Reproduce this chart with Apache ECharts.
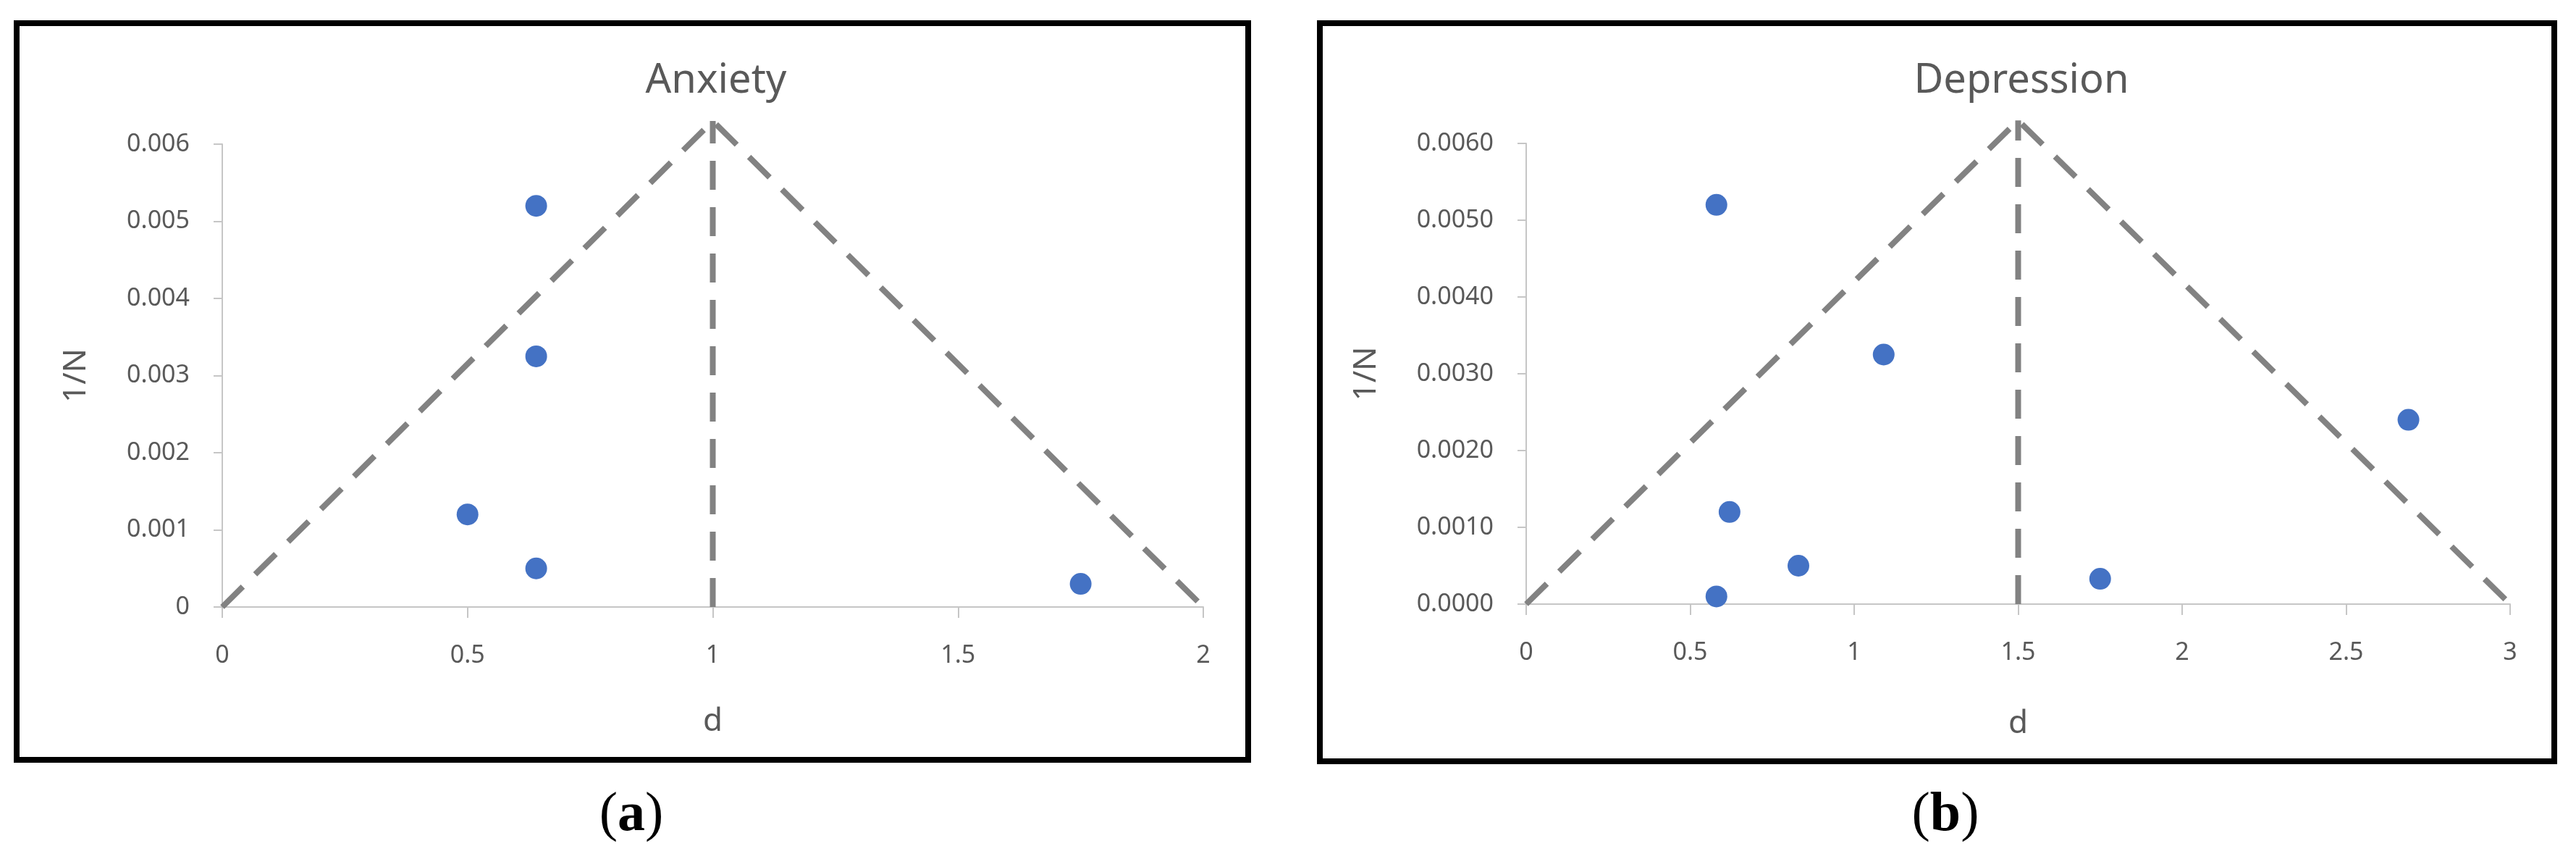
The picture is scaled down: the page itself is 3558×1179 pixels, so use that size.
<!DOCTYPE html>
<html>
<head>
<meta charset="utf-8">
<script src="https://cdn.jsdelivr.net/npm/echarts@6/dist/echarts.min.js"></script>
<style>
  html, body { margin: 0; padding: 0; background: #fff; }
  #chart { width: 3558px; height: 1179px; }
</style>
</head>
<body>
<div id="chart"></div>
<script>
// (a) Anxiety: effect size d vs 1/N
var anxietyD = [0.64, 0.64, 0.5, 0.64, 1.75];
var anxietyInvN = [0.0052, 0.00325, 0.0012, 0.0005, 0.0003];
var anxietyFunnelD = [0, 1, 2];
var anxietyFunnelY = [0, 0.0063, 0];
var anxietyMeanD = [1, 1];
var anxietyMeanY = [0, 0.0063];

// (b) Depression
var depressionD = [0.58, 1.09, 0.62, 0.83, 0.58, 1.75, 2.69];
var depressionInvN = [0.0052, 0.00325, 0.0012, 0.0005, 0.0001, 0.00033, 0.0024];
var depressionFunnelD = [0, 1.5, 3];
var depressionFunnelY = [0, 0.0063, 0];
var depressionMeanD = [1.5, 1.5];
var depressionMeanY = [0, 0.0063];

var panelTitles = ['Anxiety', 'Depression'];
var panelCaptions = ['a', 'b'];

function zip(xs, ys) {
  return xs.map(function (x, i) { return [x, ys[i]]; });
}

var labelColor = '#595959';
var axisColor = '#c6c6c6';
var dashColor = '#828282';
var dotColor = '#4472C4';
var font = '"Noto Sans", sans-serif';

function xAxisFor(grid, max, gap) {
  return {
    type: 'value', gridIndex: grid, min: 0, max: max, interval: 0.5,
    name: 'd', nameLocation: 'middle', nameGap: gap,
    nameTextStyle: { color: labelColor, fontSize: 44, fontFamily: font },
    axisLine: { onZero: false, lineStyle: { color: axisColor, width: 2 } },
    axisTick: { show: true, length: 15, lineStyle: { color: axisColor, width: 2 } },
    axisLabel: { color: labelColor, fontSize: 34, fontFamily: font, margin: 50 },
    splitLine: { show: false }
  };
}

function yAxisFor(grid, digits, gap) {
  return {
    type: 'value', gridIndex: grid, min: 0, max: 0.006, interval: 0.001,
    name: '1/N', nameLocation: 'middle', nameGap: gap, nameRotate: 90,
    nameTextStyle: { color: labelColor, fontSize: 44, fontFamily: font },
    axisLine: { show: true, lineStyle: { color: axisColor, width: 2 } },
    axisTick: { show: true, length: 12, lineStyle: { color: axisColor, width: 2 } },
    axisLabel: {
      color: labelColor, fontSize: 34, fontFamily: font, margin: 45,
      formatter: function (v) {
        if (digits === 3 && Math.abs(v) < 1e-9) return '0';
        return v.toFixed(digits);
      }
    },
    splitLine: { show: false }
  };
}

function dashed(grid, data) {
  return {
    type: 'line', xAxisIndex: grid, yAxisIndex: grid, data: data,
    symbol: 'none', clip: false, z: 2, silent: true,
    lineStyle: { color: dashColor, width: 8, type: [40, 24], cap: 'butt' }
  };
}

function dots(grid, data) {
  return {
    type: 'scatter', xAxisIndex: grid, yAxisIndex: grid, data: data,
    symbol: 'circle', symbolSize: 30, z: 5,
    itemStyle: { color: dotColor, opacity: 1 }
  };
}

function caption(x, letter) {
  return {
    type: 'text', x: x, y: 1126,
    style: {
      text: '{p|(}{l|' + letter + '}{p|)}',
      align: 'center', verticalAlign: 'middle',
      rich: {
        p: { fontSize: 76, fontFamily: '"Liberation Serif", serif', fill: '#000' },
        l: { fontSize: 76, fontFamily: '"Liberation Serif", serif', fontWeight: 'bold', fill: '#000' }
      }
    }
  };
}

var chart = echarts.init(document.getElementById('chart'));

var option = {
  backgroundColor: '#fff',
  animation: false,
  title: [
    { text: panelTitles[0], left: 984, top: 79, textAlign: 'center',
      textStyle: { color: labelColor, fontSize: 56, fontWeight: 'normal', fontFamily: font } },
    { text: panelTitles[1], left: 2787, top: 79, textAlign: 'center',
      textStyle: { color: labelColor, fontSize: 56, fontWeight: 'normal', fontFamily: font } }
  ],
  grid: [
    { left: 307, top: 199, width: 1355, height: 639 },
    { left: 2108, top: 198, width: 1359, height: 636 }
  ],
  xAxis: [xAxisFor(0, 2, 136), xAxisFor(1, 3, 143)],
  yAxis: [yAxisFor(0, 3, 180), yAxisFor(1, 4, 199)],
  series: [
    dashed(0, zip(anxietyFunnelD, anxietyFunnelY)),
    dashed(0, zip(anxietyMeanD, anxietyMeanY)),
    dots(0, zip(anxietyD, anxietyInvN)),
    dashed(1, zip(depressionFunnelD, depressionFunnelY)),
    dashed(1, zip(depressionMeanD, depressionMeanY)),
    dots(1, zip(depressionD, depressionInvN))
  ],
  graphic: [
    { type: 'rect', shape: { x: 23, y: 32, width: 1701, height: 1017 },
      style: { fill: 'none', stroke: '#000', lineWidth: 8 } },
    { type: 'rect', shape: { x: 1823, y: 32, width: 1705, height: 1019 },
      style: { fill: 'none', stroke: '#000', lineWidth: 8 } },
    caption(872, panelCaptions[0]),
    caption(2687, panelCaptions[1])
  ]
};

chart.setOption(option);
</script>
</body>
</html>
